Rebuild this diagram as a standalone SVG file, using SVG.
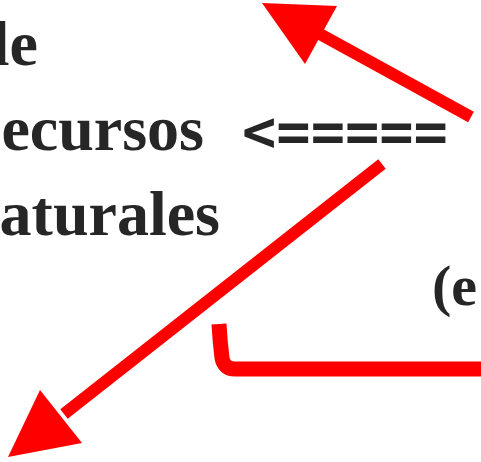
<svg xmlns="http://www.w3.org/2000/svg" width="481" height="462" viewBox="0 0 481 462">
<style>
.t{font-family:"Liberation Serif",serif;font-weight:bold;fill:#262626}
.m{font-family:"DejaVu Sans Mono",monospace;font-weight:bold;fill:#262626;font-variant-ligatures:none}
.ln{stroke:#ff0000;stroke-width:12;fill:none;stroke-linecap:butt}
.br{stroke:#ff0000;stroke-width:15;fill:none;stroke-linecap:butt;stroke-linejoin:round}
.hd{fill:#ff0000}
</style>
<rect width="481" height="462" fill="#ffffff"/>
<g id="node-le"><text class="t" x="38" y="65" font-size="64" text-anchor="end">le</text></g>
<g id="node-recursos"><text class="t" x="204" y="150" font-size="64" text-anchor="end">ecursos</text></g>
<g id="node-naturales"><text class="t" x="220" y="235" font-size="64" text-anchor="end">aturales</text></g>
<g id="node-arrowtext"><text class="m" x="242" y="151" font-size="57">&lt;=====</text></g>
<g id="node-paren"><text class="t" x="432" y="305" font-size="58">(e</text></g>
<g id="connectors">
<line class="ln" x1="471" y1="117" x2="318" y2="33"/>
<polygon class="hd" points="262,3 337,6 305,64"/>
<line class="ln" x1="382" y1="164" x2="64" y2="414"/>
<polygon class="hd" points="8,457 40,390 82,443"/>
<path class="br" d="M219,324 C220,342 221,350 222,358 Q224,369 235,369 L481,369"/>
</g>
</svg>
